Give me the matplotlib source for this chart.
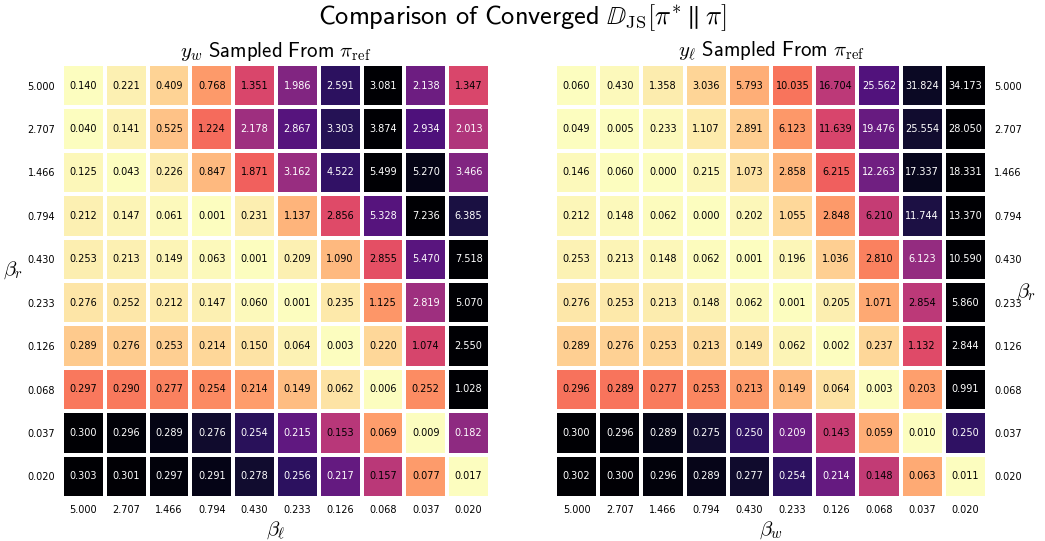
import numpy as np
import matplotlib
matplotlib.use("Agg")
import matplotlib.pyplot as plt
from matplotlib.colors import Normalize

plt.rcParams['mathtext.fontset'] = 'cm'
plt.rcParams['font.family'] = 'DejaVu Sans'

beta_ticks = ["5.000", "2.707", "1.466", "0.794", "0.430", "0.233", "0.126", "0.068", "0.037", "0.020"]

yw_values = [
    [0.140, 0.221, 0.409, 0.768, 1.351, 1.986, 2.591, 3.081, 2.138, 1.347],
    [0.040, 0.141, 0.525, 1.224, 2.178, 2.867, 3.303, 3.874, 2.934, 2.013],
    [0.125, 0.043, 0.226, 0.847, 1.871, 3.162, 4.522, 5.499, 5.270, 3.466],
    [0.212, 0.147, 0.061, 0.001, 0.231, 1.137, 2.856, 5.328, 7.236, 6.385],
    [0.253, 0.213, 0.149, 0.063, 0.001, 0.209, 1.090, 2.855, 5.470, 7.518],
    [0.276, 0.252, 0.212, 0.147, 0.060, 0.001, 0.235, 1.125, 2.819, 5.070],
    [0.289, 0.276, 0.253, 0.214, 0.150, 0.064, 0.003, 0.220, 1.074, 2.550],
    [0.297, 0.290, 0.277, 0.254, 0.214, 0.149, 0.062, 0.006, 0.252, 1.028],
    [0.300, 0.296, 0.289, 0.276, 0.254, 0.215, 0.153, 0.069, 0.009, 0.182],
    [0.303, 0.301, 0.297, 0.291, 0.278, 0.256, 0.217, 0.157, 0.077, 0.017],
]

yl_values = [
    [0.060, 0.430, 1.358, 3.036, 5.793, 10.035, 16.704, 25.562, 31.824, 34.173],
    [0.049, 0.005, 0.233, 1.107, 2.891, 6.123, 11.639, 19.476, 25.554, 28.050],
    [0.146, 0.060, 0.000, 0.215, 1.073, 2.858, 6.215, 12.263, 17.337, 18.331],
    [0.212, 0.148, 0.062, 0.000, 0.202, 1.055, 2.848, 6.210, 11.744, 13.370],
    [0.253, 0.213, 0.148, 0.062, 0.001, 0.196, 1.036, 2.810, 6.123, 10.590],
    [0.276, 0.253, 0.213, 0.148, 0.062, 0.001, 0.205, 1.071, 2.854, 5.860],
    [0.289, 0.276, 0.253, 0.213, 0.149, 0.062, 0.002, 0.237, 1.132, 2.844],
    [0.296, 0.289, 0.277, 0.253, 0.213, 0.149, 0.064, 0.003, 0.203, 0.991],
    [0.300, 0.296, 0.289, 0.275, 0.250, 0.209, 0.143, 0.059, 0.010, 0.250],
    [0.302, 0.300, 0.296, 0.289, 0.277, 0.254, 0.214, 0.148, 0.063, 0.011],
]

W, H = 1045, 541
fig = plt.figure(figsize=(W / 100, H / 100), dpi=100)


def heatmap(ax, values, side):
    data = np.array(values)
    n_rows, n_cols = data.shape
    cmap = plt.get_cmap('magma_r')
    xedges = np.arange(n_cols + 1)
    for i in range(n_rows):
        row = data[i]
        norm = Normalize(vmin=row.min(), vmax=row.max())
        ax.pcolormesh(xedges, [i, i + 1], row[None, :], cmap=cmap, norm=norm,
                      edgecolors='white', linewidth=2.8)
        for j, v in enumerate(row):
            c = 'white' if norm(v) > 0.5 else 'black'
            ax.text(j + 0.5, i + 0.5, f"{v:.3f}", ha='center', va='center',
                    fontsize=7, color=c)
    ax.set_xlim(0, n_cols)
    ax.set_ylim(n_rows, 0)
    ax.set_xticks(np.arange(n_cols) + 0.5)
    ax.set_xticklabels(beta_ticks, fontsize=7)
    ax.set_yticks(np.arange(n_rows) + 0.5)
    ax.set_yticklabels(beta_ticks, fontsize=7)
    ax.tick_params(length=0, pad=5)
    for s in ax.spines.values():
        s.set_visible(False)
    if side == 'right':
        ax.yaxis.tick_right()
        ax.yaxis.set_label_position('right')


axL = fig.add_axes([62 / W, (H - 498) / H, 428 / W, 434 / H])
axR = fig.add_axes([555 / W, (H - 498) / H, 432 / W, 434 / H])

heatmap(axL, yw_values, 'left')
heatmap(axR, yl_values, 'right')

axL.set_title(r'$y_w\ \mathsf{Sampled\ From}\ \pi_{\mathrm{ref}}$', fontsize=15, pad=5)
axR.set_title(r'$y_\ell\ \mathsf{Sampled\ From}\ \pi_{\mathrm{ref}}$', fontsize=15, pad=5)
axL.set_xlabel(r'$\beta_\ell$', fontsize=15, labelpad=3)
axR.set_xlabel(r'$\beta_w$', fontsize=15, labelpad=3)
axL.set_ylabel(r'$\beta_r$', fontsize=15, rotation=0, labelpad=10)
axR.set_ylabel(r'$\beta_r$', fontsize=15, rotation=0, labelpad=3)

fig.suptitle(r'$\mathsf{Comparison\ of\ Converged}\ \mathbb{D}_{\mathrm{JS}}[\pi^{*}\parallel\pi]$',
             fontsize=19, y=0.995)

fig.savefig('out.png', dpi=100)
